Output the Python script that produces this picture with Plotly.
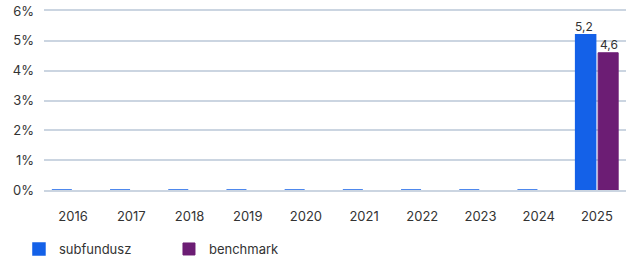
import plotly.graph_objects as go

years = ["2016", "2017", "2018", "2019", "2020", "2021", "2022", "2023", "2024", "2025"]
subfundusz = [0, 0, 0, 0, 0, 0, 0, 0, 0, 5.2]
benchmark = [None, None, None, None, None, None, None, None, None, 4.6]
y_ticks = [0, 1, 2, 3, 4, 5, 6]
y_tick_labels = ["0%", "1%", "2%", "3%", "4%", "5%", "6%"]

BLUE = "#1461E8"
PURPLE = "#6C1D74"
GRID = "#CBD5E1"


def fmt(v):
    return f"{v:.1f}".replace(".", ",")


fig = go.Figure()
fig.add_trace(go.Bar(
    x=years, y=subfundusz, name="subfundusz",
    marker=dict(color=BLUE, line=dict(color=BLUE, width=1.5)),
))
fig.add_trace(go.Bar(
    x=years, y=benchmark, name="benchmark",
    marker=dict(color=PURPLE, line=dict(color=PURPLE, width=1)),
))

# value labels above non-zero bars (x = category serial number)
for series, dx in ((subfundusz, -12.5), (benchmark, 12.5)):
    for i, v in enumerate(series):
        if v is None or v == 0:
            continue
        fig.add_annotation(x=i, y=v, text=fmt(v), showarrow=False,
                           xref="x", yref="y",
                           xshift=dx, yanchor="bottom", yshift=-1,
                           font=dict(size=12, color="#333333"))

fig.update_layout(
    width=629, height=257,
    margin=dict(l=44, r=3, t=11, b=67, autoexpand=False),
    paper_bgcolor="white", plot_bgcolor="white",
    font=dict(family="Inter, Roboto, sans-serif", size=13, color="#333333"),
    barmode="group", bargap=0.227, bargroupgap=0.11,
    showlegend=True,
    legend=dict(orientation="h", x=-0.043, xanchor="left",
                y=-0.246, yanchor="top",
                entrywidth=105, font=dict(size=13, color="#333333"),
                itemwidth=30, traceorder="normal"),
)
fig.update_xaxes(type="category", categoryorder="array", categoryarray=years,
                 range=[-0.5, len(years) - 0.5],
                 showgrid=False, showline=True, mirror=True,
                 linecolor=GRID, linewidth=1.5,
                 ticks="", ticklabelstandoff=14,
                 automargin=False, tickfont=dict(size=13, color="#333333"))
fig.update_yaxes(range=[0, 6], tickvals=y_ticks, ticktext=y_tick_labels,
                 showgrid=True, gridcolor=GRID, gridwidth=1.5,
                 zeroline=False,
                 automargin=False, ticklabeloverflow="allow",
                 ticks="", ticklabelstandoff=9, tickfont=dict(size=13, color="#333333"))

fig.write_html("out.html", config={"displayModeBar": False},
               post_script="document.body.style.margin='0';document.body.style.overflow='hidden';")
